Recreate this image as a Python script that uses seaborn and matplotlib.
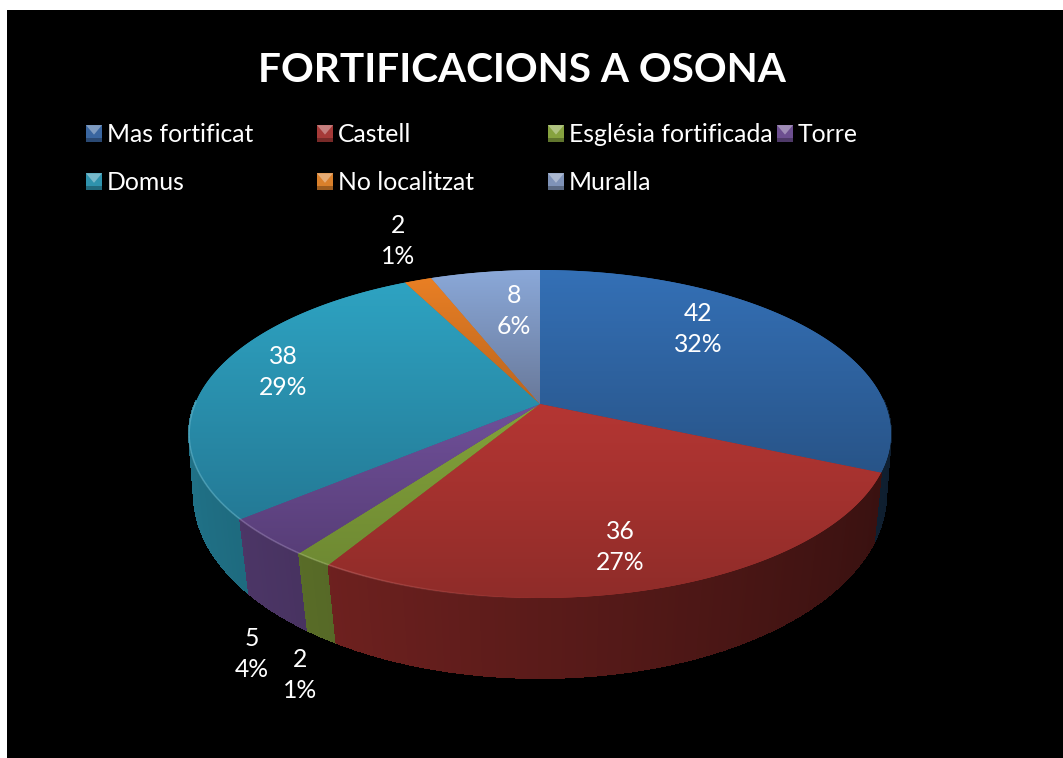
import numpy as np
import matplotlib
matplotlib.use("Agg")
import matplotlib.pyplot as plt
import seaborn as sns
from matplotlib.collections import LineCollection, PolyCollection
from matplotlib.legend_handler import HandlerBase
from matplotlib.patches import Patch, Polygon, Rectangle
from matplotlib.path import Path
from matplotlib.transforms import Transform

# ---- data -------------------------------------------------------------
title = "FORTIFICACIONS A OSONA"
categories = ["Mas fortificat", "Castell", "Església fortificada", "Torre",
              "Domus", "No localitzat", "Muralla"]
values = [42, 36, 2, 5, 38, 2, 8]
percents = ["32%", "27%", "1%", "4%", "29%", "1%", "6%"]

# ---- styling ----------------------------------------------------------
sns.set_theme(style="dark", rc={"axes.grid": False})
plt.rcParams["font.family"] = ["Lato", "DejaVu Sans"]

top_colors = sns.color_palette(["#3470b6", "#b53633", "#83a23a", "#70509a",
                                "#2ea3c2", "#e97f24", "#8aa8d8"])
bottom_colors = sns.color_palette(["#285488", "#8f2c29", "#6f8a33", "#583e78",
                                   "#247a96", "#b9651f", "#69799a"])
side_colors = sns.color_palette(["#2f6299", "#b53633", "#8fae40", "#74529c",
                                 "#2ea3c2", "#e97f24", "#8aa8d8"])
legend_colors = sns.color_palette(["#3a66a0", "#a63a38", "#86a23f", "#6d4f90",
                                   "#2f93ad", "#d9802b", "#7f93b8"])

W, H = 1063, 758
LEFT, TOP = 7, 10
fig = plt.figure(figsize=(W / 100, H / 100), dpi=100, facecolor="white")
ax = fig.add_axes([LEFT / W, 0, (W - LEFT) / W, (H - TOP) / H])


# ---- perspective mapping of the unit disc to the image plane ----------
class Perspective(Transform):
    input_dims = output_dims = 2
    is_separable = False
    has_inverse = False

    def __init__(self, cx, k, a, b, c):
        super().__init__()
        self.p = (cx, k, a, b, c)

    def transform_non_affine(self, xy):
        cx, k, a, b, c = self.p
        xy = np.asarray(xy, dtype=float)
        d = c * xy[:, 1] + 1
        return np.column_stack([cx + k * xy[:, 0] / d, (a * xy[:, 1] + b) / d])

    def transform_path_non_affine(self, path):
        t = np.linspace(0, 1, 25)
        pts = []
        for seg, code in path.iter_bezier():
            if code == Path.MOVETO:
                continue
            pts.append(seg(t))
        pts = np.vstack(pts)
        out = self.transform_non_affine(pts)
        codes = [Path.MOVETO] + [Path.LINETO] * (len(out) - 1)
        return Path(out, codes)


top_map = Perspective(540, 345, -84.6, 404, 0.1829)
base_map = Perspective(540, 342, -108.4, 465.8, 0.153)

wedges, _ = ax.pie(values, startangle=90, counterclock=False, radius=1,
                   colors=top_colors, wedgeprops={"linewidth": 0})
ax.set_aspect("auto")
ax.set_frame_on(True)
ax.set_facecolor("black")

# ---- rim (back to front) ----------------------------------------------
polys, fcs = [], []
rim_segments, rim_rgba = [], []
for w, col, scol in zip(wedges, top_colors, side_colors):
    ang = np.deg2rad(np.arange(w.theta1, w.theta2 + 0.5, 0.5))
    if len(ang) < 2:
        continue
    ang[-1] = np.deg2rad(w.theta2)
    disc = np.column_stack([np.cos(ang), np.sin(ang)])
    up = top_map.transform_non_affine(disc)
    lo = base_map.transform_non_affine(disc)
    for i in range(len(ang) - 1):
        um, vm = disc[i:i + 2].mean(axis=0)
        if vm > 0.02:
            continue
        f = np.clip(0.50 - 0.20 * um, 0.2, 1)
        polys.append([up[i], up[i + 1], lo[i + 1], lo[i]])
        fcs.append(tuple(np.array(scol) * f) + (1,))
        if um < 0:
            light = 0.6 * np.array(col) + 0.4
            rim_segments.append([up[i], up[i + 1]])
            rim_rgba.append(tuple(light) + (float(np.clip(-0.7 * um, 0, 0.4)),))

order = np.argsort([np.mean([p[0][1], p[1][1]]) for p in polys])
ax.add_collection(PolyCollection([polys[i] for i in order],
                                 facecolors=[fcs[i] for i in order],
                                 edgecolors=[fcs[i] for i in order],
                                 linewidths=0.8, antialiaseds=False, zorder=1))

# ---- top surface: pie wedges with a vertical shading ------------------
for w, c_top, c_bot in zip(wedges, top_colors, bottom_colors):
    w.set_transform(top_map + ax.transData)
    w.set_zorder(2)
    ext = top_map.transform_path_non_affine(
        w.get_patch_transform().transform_path(w.get_path())).get_extents()
    grad = np.linspace(np.array(c_top), np.array(c_bot), 128)[:, None, :]
    im = ax.imshow(grad, extent=(ext.x0, ext.x1, ext.y1, ext.y0), aspect="auto",
                   interpolation="bilinear", zorder=3)
    im.set_clip_path(w)

ax.add_collection(LineCollection(rim_segments, colors=rim_rgba, linewidths=1.2,
                                 zorder=4))

ax.set_xlim(LEFT, W)
ax.set_ylim(H, TOP)
ax.set_aspect("auto")
ax.set_xticks([])
ax.set_yticks([])
for s in ax.spines.values():
    s.set_visible(False)

# ---- title ------------------------------------------------------------
ax.text(522, 70, title, color="white", fontsize=29.2, fontweight="bold",
        ha="center", va="center", zorder=6)

# ---- data labels ------------------------------------------------------
label_xy = [(698, 329), (620, 547), (300, 675), (252, 654),
            (283, 372), (398, 241), (514, 311)]
for (x, y), v, p in zip(label_xy, values, percents):
    ax.text(x, y, f"{v}\n{p}", color="white", fontsize=17.8, ha="center",
            va="center", linespacing=1.45, zorder=6)


# ---- legend -----------------------------------------------------------
class BevelHandler(HandlerBase):
    def create_artists(self, legend, orig_handle, xdescent, ydescent, width,
                       height, fontsize, trans):
        col = np.array(matplotlib.colors.to_rgb(orig_handle.get_facecolor()))
        x0, y0 = -xdescent, -ydescent
        lite = col + (1 - col) * 0.35
        dark = col * 0.72
        body = Rectangle((x0, y0), width, height, facecolor=col, edgecolor="none",
                         transform=trans)
        tri = Polygon([(x0, y0 + height), (x0 + width, y0 + height),
                       (x0 + width / 2, y0 + height * 0.42)], closed=True,
                      facecolor=lite, edgecolor="none", transform=trans)
        band = Rectangle((x0, y0), width, height * 0.22, facecolor=dark,
                         edgecolor="none", transform=trans)
        return [body, tri, band]


handles = [Patch(facecolor=c, label=n) for c, n in zip(legend_colors, categories)]
columns = [(86, [0, 4]), (317, [1, 5]), (548, [2, 6]), (777, [3])]
fs = 17.8
for n, (x, idx) in enumerate(columns):
    leg = ax.legend([handles[i] for i in idx], [categories[i] for i in idx],
                    loc="upper left", bbox_to_anchor=(x, 123),
                    bbox_transform=ax.transData, frameon=False, borderpad=0,
                    borderaxespad=0, fontsize=fs, labelcolor="white",
                    labelspacing=1.02, handlelength=11.5 / fs,
                    handleheight=11.5 / fs, handletextpad=0.2,
                    handler_map={Patch: BevelHandler()})
    leg.set_zorder(6)
    if n < len(columns) - 1:
        ax.add_artist(leg)

fig.savefig("out.png", dpi=100, facecolor="white")
